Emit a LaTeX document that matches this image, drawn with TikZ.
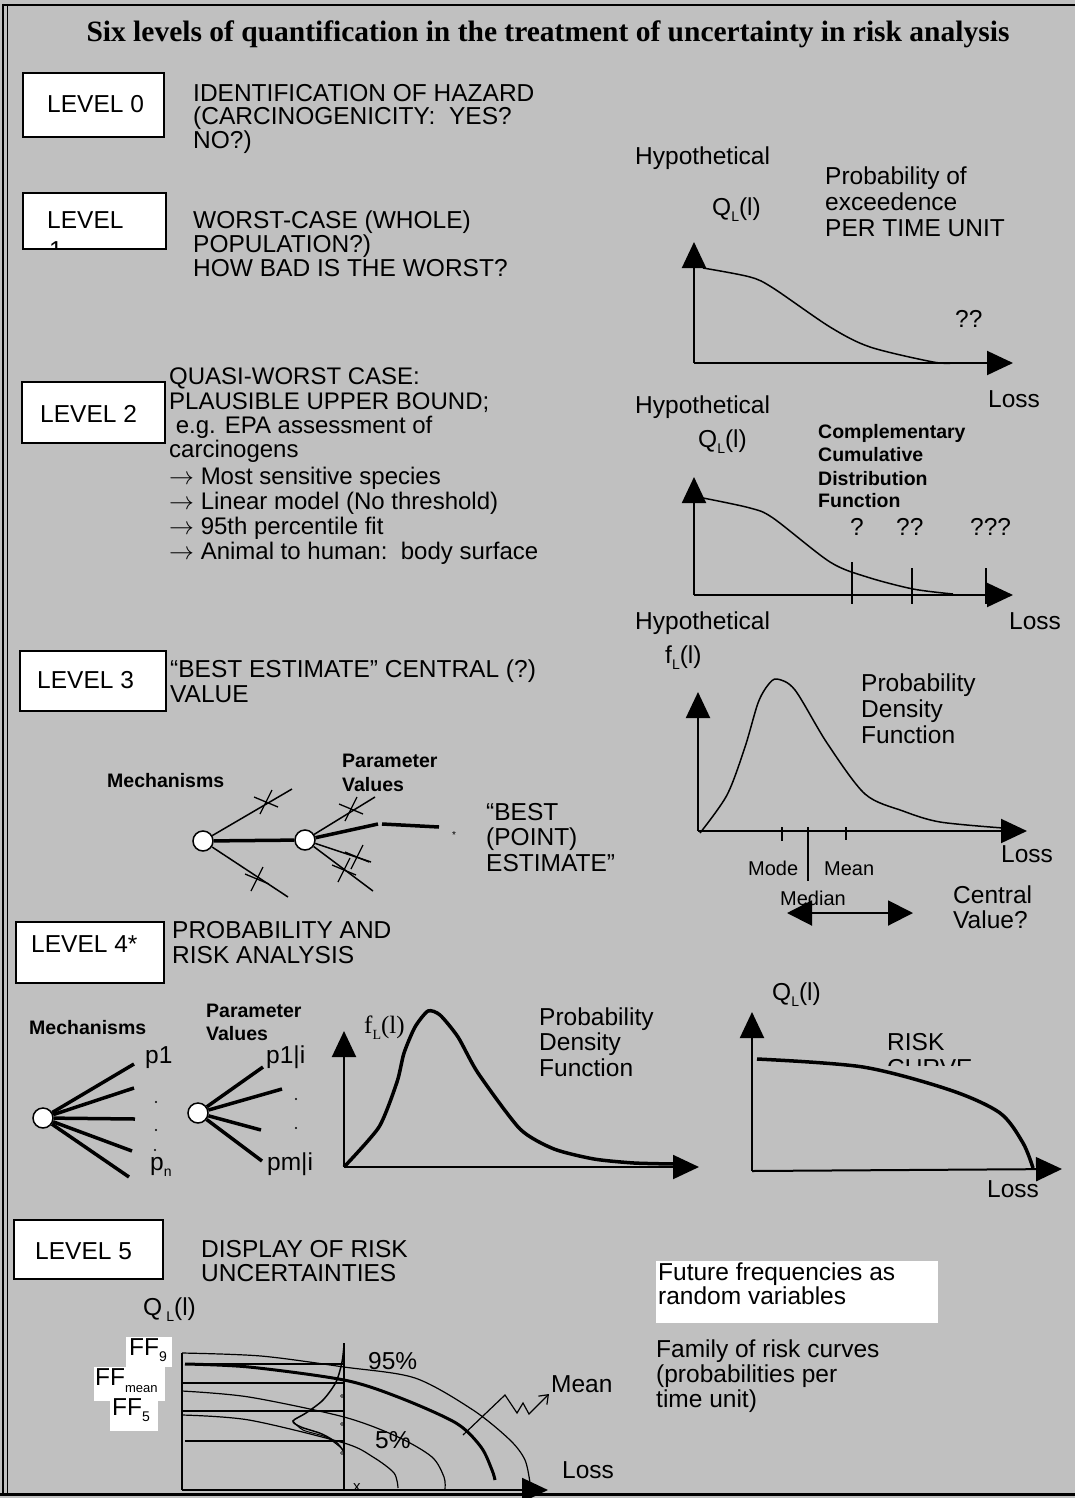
\documentclass[tikz,border=0pt]{standalone}
\usepackage{fontspec}
\setmainfont{Liberation Sans}
\newfontfamily\timesfont{Liberation Serif}
\usetikzlibrary{arrows.meta}
\definecolor{panelgray}{HTML}{C0C0C0}
\newcommand{\lowsub}[1]{\raisebox{-0.25em}{\fontsize{14}{14}\selectfont #1}}

\begin{document}
\begin{tikzpicture}[x=1pt, y=-1pt,
    lbl/.style={anchor=base west, inner sep=0pt, font=\fontsize{24.5}{24.5}\selectfont},
    blbl/.style={anchor=base west, inner sep=0pt, font=\bfseries\fontsize{19.5}{19.5}\selectfont},
    slbl/.style={anchor=base west, inner sep=0pt, font=\fontsize{20}{20}\selectfont},
    lvlbox/.style={draw, fill=white, line width=1.5pt},
    axis/.style={line width=2pt, -{Triangle[length=26pt, width=24pt]}},
    fcurve/.style={line width=1.5pt},
    bcurve/.style={line width=3.5pt},
    knob/.style={circle, draw, fill=white, line width=1.5pt, minimum size=20pt, inner sep=0pt},
    xmark/.pic={\draw[line width=1.3pt] (-6,12) -- (6,-12); \draw[line width=1.3pt] (-12,-5) -- (12,5);}]

    \useasboundingbox (0,0) rectangle (1075,1498);
    \fill[panelgray] (0,0) rectangle (1075,1498);
    \draw[line width=2.5pt] (3,5) -- (1075,5);
    \draw[line width=1.5pt] (3,4) -- (3,1494);
    \draw[line width=1.5pt] (7.5,5) -- (7.5,1494);

    \node[anchor=base, inner sep=0pt, font=\timesfont\bfseries\fontsize{29.5}{29.5}\selectfont] (title) at (548,42)
      {Six levels of quantification in the treatment of uncertainty in risk analysis};

    % level 0
    \draw[lvlbox] (23,73) rectangle (164,137);
    \node[lbl] (lzero) at (47,113) {LEVEL 0};
    \foreach \t/\y [count=\i] in {{IDENTIFICATION OF HAZARD}/102, {(CARCINOGENICITY:\ \ YES?}/125, {NO?)}/149}
      \node[lbl] (lzero\i) at (193,\y) {\t};

    % level 1
    \draw[lvlbox] (23,193) rectangle (166,249);
    \node[lbl] (lone) at (47,228) {LEVEL};
    \begin{scope}
      \clip (23,193) rectangle (166,247);
      \node[lbl] (lonedigit) at (49,258) {1};
    \end{scope}
    \foreach \t/\y [count=\i] in {{WORST-CASE (WHOLE)}/228, {POPULATION?)}/252, {HOW BAD IS THE WORST?}/276}
      \node[lbl] (lone\i) at (193,\y) {\t};

    % exceedance plot
    \node[lbl] (hypA) at (635,165) {Hypothetical};
    \node[lbl] (qA) at (712,215) {Q\lowsub{L}(l)};
    \foreach \t/\y [count=\i] in {{Probability of}/185, {exceedence}/211, {PER TIME UNIT}/236}
      \node[lbl] (exc\i) at (825,\y) {\t};
    \coordinate (oA) at (694,363);
    \draw[axis] (oA) -- (694,242);
    \draw[axis] (oA) -- (1013,363);
    \draw[fcurve] plot[smooth, tension=0.5] coordinates {(703,268) (750,277) (773,288) (830,327) (870,347) (933,362) (953,363)};
    \node[lbl] (qqA) at (955,327) {??};
    \node[lbl] (lossA) at (988,407) {Loss};

    % level 2
    \draw[lvlbox] (22,382) rectangle (165,443);
    \node[lbl] (ltwo) at (40,422) {LEVEL 2};
    \foreach \t/\y [count=\i] in {{QUASI-WORST CASE:}/384, {PLAUSIBLE UPPER BOUND;}/409, {\ e.g. EPA assessment of}/433,
        {carcinogens}/457, {$\rightarrow$ Most sensitive species}/484, {$\rightarrow$ Linear model (No threshold)}/509,
        {$\rightarrow$ 95th percentile fit}/534, {$\rightarrow$ Animal to human:\ \ body surface}/559}
      \node[lbl, font=\fontsize{24}{24}\selectfont] (ltwo\i) at (169,\y) {\t};

    % ccdf plot
    \node[lbl] (hypB) at (635,413) {Hypothetical};
    \node[lbl] (qB) at (698,447) {Q\lowsub{L}(l)};
    \foreach \t/\y [count=\i] in {{Complementary}/438, {Cumulative}/461, {Distribution}/485, {Function}/507}
      \node[blbl] (ccdf\i) at (818,\y) {\t};
    \coordinate (oB) at (694,595);
    \draw[axis] (oB) -- (694,477);
    \draw[axis] (oB) -- (1013,595);
    \draw[fcurve] plot[smooth, tension=0.5] coordinates {(703,498) (750,508) (773,518) (830,562) (867,577) (913,589) (953,594)};
    \foreach \x/\t in {852/562, 912/568, 986/568}
      \draw[line width=1.5pt] (\x,\t) -- (\x,604);
    \node[lbl] (qB1) at (850,535) {?};
    \node[lbl] (qB2) at (896,535) {??};
    \node[lbl] (qB3) at (970,535) {???};
    \node[lbl] (lossB) at (1009,629) {Loss};
    \node[lbl] (hypC) at (635,629) {Hypothetical};

    % level 3
    \draw[lvlbox] (20,651) rectangle (166,711);
    \node[lbl] (lthree) at (37,688) {LEVEL 3};
    \node[lbl] (lthree1) at (170,677) {“BEST ESTIMATE” CENTRAL (?)};
    \node[lbl] (lthree2) at (170,702) {VALUE};
    \node[blbl] (mechA) at (107,787) {Mechanisms};
    \node[blbl] (parA1) at (342,767) {Parameter};
    \node[blbl] (parA2) at (342,791) {Values};
    \node[knob] (m1) at (203,841) {};
    \node[knob] (m2) at (305,840) {};
    \coordinate (m1u) at (292,789);
    \coordinate (m1d) at (288,897);
    \coordinate (m2u) at (375,797);
    \coordinate (m2a) at (378,824);
    \coordinate (m2b) at (371,862);
    \coordinate (m2c) at (373,891);
    \coordinate (pt0) at (382,824);
    \coordinate (pt1) at (439,827);
    \draw[bcurve] (m1) -- (m2);
    \draw[fcurve] (m1) -- (m1u);
    \draw[fcurve] (m1) -- (m1d);
    \draw[fcurve] (m2) -- (m2u);
    \draw[bcurve] (m2) -- (m2a);
    \draw[fcurve] (m2) -- (m2b);
    \draw[fcurve] (m2) -- (m2c);
    \draw[bcurve] (pt0) -- (pt1);
    \foreach \p in {(266,802), (257,879), (351,809), (357,857), (344,870)}
      \pic at \p {xmark};
    \node[inner sep=0pt, font=\fontsize{10}{10}\selectfont] (star) at (454,835) {*};
    \foreach \t/\y [count=\i] in {{“BEST}/820, {(POINT)}/845, {ESTIMATE”}/871}
      \node[lbl] (best\i) at (486,\y) {\t};

    % pdf plot
    \node[lbl] (fC) at (665,663) {f\lowsub{L}(l)};
    \foreach \t/\y [count=\i] in {{Probability}/691, {Density}/717, {Function}/743}
      \node[lbl] (pdfC\i) at (861,\y) {\t};
    \coordinate (oC) at (698,831);
    \draw[axis] (oC) -- (698,692);
    \draw[axis] (oC) -- (1027,831);
    \draw[fcurve] plot[smooth, tension=0.5] coordinates {(700,833) (727,795) (745,747) (758,703) (768,685) (777,679) (795,690) (827,743) (865,794) (903,811) (940,822) (1003,828)};
    \draw[line width=1.5pt] (782,827) -- (782,841);
    \draw[line width=1.5pt] (808,827) -- (808,881);
    \draw[line width=1.5pt] (846,827) -- (846,840);
    \node[slbl] (mode) at (748,875) {Mode};
    \node[slbl] (mean) at (824,875) {Mean};
    \node[slbl] (median) at (780,905) {Median};
    \draw[line width=2pt, {Triangle[length=25pt, width=25pt]}-{Triangle[length=25pt, width=25pt]}] (787,913) -- (913,913);
    \node[lbl] (cent1) at (953,903) {Central};
    \node[lbl] (cent2) at (953,928) {Value?};
    \node[lbl] (lossC) at (1001,862) {Loss};

    % level 4
    \draw[lvlbox] (16,922) rectangle (164,983);
    \node[lbl] (lfour) at (31,952) {LEVEL 4*};
    \node[lbl] (lfour1) at (172,938) {PROBABILITY AND};
    \node[lbl] (lfour2) at (172,963) {RISK ANALYSIS};
    \node[blbl] (mechB) at (29,1034) {Mechanisms};
    \node[blbl] (parB1) at (206,1017) {Parameter};
    \node[blbl] (parB2) at (206,1040) {Values};
    \node[knob] (n1) at (43,1118) {};
    \node[knob] (n2) at (198,1113) {};
    \foreach \p in {(134,1064), (134,1088), (135,1119), (132,1151), (129,1177)}
      \draw[bcurve] (n1) -- \p;
    \foreach \p in {(263,1067), (282,1089), (261,1130), (262,1161)}
      \draw[bcurve] (n2) -- \p;
    \foreach \p in {(156,1102), (156,1130), (155,1150), (296,1099), (296,1128)}
      \fill \p circle (1.2);
    \node[lbl] (pone) at (145,1063) {p1};
    \node[lbl] (pn) at (150,1170) {p\lowsub{n}};
    \node[lbl] (poi) at (266,1063) {p1|i};
    \node[lbl] (pmi) at (267,1170) {pm|i};
    \node[anchor=base west, inner sep=0pt, font=\timesfont\fontsize{25}{25}\selectfont] (fD) at (364,1033) {f\lowsub{L}(l)};
    \foreach \t/\y [count=\i] in {{Probability}/1025, {Density}/1050, {Function}/1076}
      \node[lbl] (pdfD\i) at (539,\y) {\t};
    \coordinate (oD) at (344,1167);
    \draw[axis] (oD) -- (344,1031);
    \draw[axis] (oD) -- (699,1167);
    \draw[bcurve] plot[smooth, tension=0.4] coordinates {(344,1167) (379,1127) (397,1082) (404,1053) (415,1027) (428,1011) (440,1015) (458,1037) (478,1073) (520,1129) (554,1149) (594,1159) (634,1163) (674,1164)};

    % risk curve
    \node[lbl] (qE) at (772,1000) {Q\lowsub{L}(l)};
    \coordinate (oE) at (752,1171);
    \draw[axis] (oE) -- (752,1012);
    \draw[axis] (oE) -- (1062,1169);
    \draw[bcurve] plot[smooth, tension=0.5] coordinates {(757,1059) (863,1067) (950,1090) (1000,1113) (1023,1143) (1033,1168)};
    \node[lbl] (risk) at (887,1050) {RISK};
    \begin{scope}
      \clip (880,1040) rectangle (1000,1065);
      \node[lbl] (curve) at (887,1076) {CURVE};
    \end{scope}
    \node[lbl] (lossE) at (987,1197) {Loss};

    % level 5
    \draw[lvlbox] (14,1220) rectangle (163,1279);
    \node[lbl] (lfive) at (35,1259) {LEVEL 5};
    \node[lbl] (lfive1) at (201,1257) {DISPLAY OF RISK};
    \node[lbl] (lfive2) at (201,1281) {UNCERTAINTIES};
    \node[lbl] (qF) at (143,1315) {Q\,\lowsub{L}(l)};
    \fill[white] (126,1337) rectangle (172,1367);
    \fill[white] (94,1367) rectangle (165,1401);
    \fill[white] (110,1401) rectangle (158,1431);
    \node[lbl] (ffhi) at (129,1355) {FF\lowsub{9}};
    \node[lbl] (ffmean) at (95,1385) {FF\raisebox{-0.3em}{\fontsize{13}{13}\selectfont mean}};
    \node[lbl] (fflo) at (112,1415) {FF\lowsub{5}};
    \coordinate (oF) at (182,1490);
    \draw[line width=1.5pt] (182,1353) -- (oF);
    \draw[axis] (oF) -- (548,1490);
    \draw[line width=1.5pt] (344,1343) -- (344,1490);
    \foreach \y/\x in {1364/185, 1383/182, 1411/182, 1441/185}
      \draw[line width=2pt] (\x,\y) -- (344,\y);
    \draw[line width=1.2pt] plot[smooth, tension=0.5] coordinates {(182,1353) (261,1356) (344,1367) (415,1378) (473,1410) (510,1440) (525,1460) (530,1483)};
    \draw[line width=3pt] plot[smooth, tension=0.5] coordinates {(185,1364) (249,1367) (344,1380) (398,1397) (456,1423) (481,1447) (492,1470) (495,1480)};
    \draw[line width=1.2pt] plot[smooth, tension=0.5] coordinates {(182,1391) (249,1397) (344,1417) (398,1437) (432,1457) (444,1477) (445,1489)};
    \draw[line width=1.2pt] plot[smooth, tension=0.5] coordinates {(182,1415) (249,1420) (344,1443) (373,1457) (394,1473) (398,1488)};
    \draw[line width=1.5pt] plot[smooth, tension=0.5] coordinates {(344,1345) (342,1362) (336,1382) (323,1400) (306,1413) (293,1421) (301,1427) (322,1434) (337,1443) (344,1452)};
    \draw[line width=1pt] plot[smooth, tension=0.5] coordinates {(293,1421) (303,1430) (326,1437) (340,1447)};
    \foreach \y in {1396, 1424, 1453}
      \draw[line width=0.6pt] (342,\y) circle (1.5);
    \node[anchor=base west, inner sep=0pt, font=\fontsize{15}{15}\selectfont] (xval) at (353,1491) {x};
    \node[lbl] (pct95) at (368,1369) {95\%};
    \node[lbl] (pct5) at (375,1448) {5\%};
    \node[lbl] (meanF) at (551,1392) {Mean};
    \node[lbl] (lossF) at (562,1478) {Loss};
    \draw[line width=1.2pt, -{Straight Barb[length=8pt, width=12pt]}] (463,1435) -- (505,1395) -- (517,1413) -- (523,1403) -- (529,1414) -- (549,1394);

    % notes
    \fill[white] (656,1261) rectangle (938,1323);
    \node[lbl] (fut1) at (658,1280) {Future frequencies as};
    \node[lbl] (fut2) at (658,1304) {random variables};
    \foreach \t/\y [count=\i] in {{Family of risk curves}/1357, {(probabilities per}/1382, {time unit)}/1407}
      \node[lbl] (fam\i) at (656,\y) {\t};

    \draw[line width=3pt] (0,1494) -- (1075,1494);
  \end{tikzpicture}
\end{document}
